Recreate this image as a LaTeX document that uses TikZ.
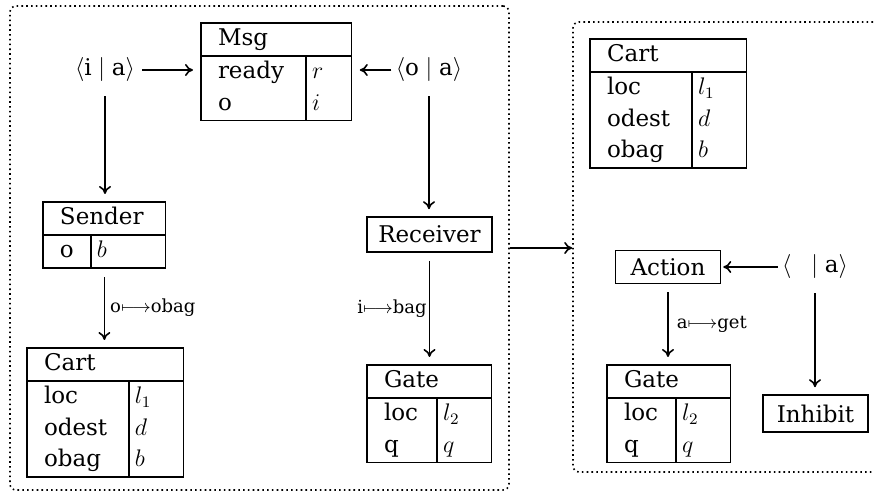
\documentclass[tikz,border=0pt]{standalone}
\usepackage{amsmath,amssymb}
\usepackage{array}
\usepackage{fontspec}
\setmainfont{DejaVu Serif}
\usepackage{tikz}
\usetikzlibrary{arrows.meta,positioning,calc}
\setlength{\arrayrulewidth}{0.8pt}
\renewcommand{\arraystretch}{1.12}
\newcolumntype{K}[1]{|@{\hspace{8pt}}p{#1}@{}}
\newcolumntype{V}[1]{|@{\hspace{2.5pt}}p{#1}@{}|}
\newcommand{\head}[1]{\multicolumn{2}{|@{\hspace{8pt}}l|}{#1}}

\begin{document}
\begin{tikzpicture}[
    x=0.5pt,y=-0.5pt,
    font=\fontsize{11.5}{14}\selectfont,
    frame/.style={draw,line width=0.8pt,dash pattern=on 0.8pt off 1.6pt,rounded corners=3pt,inner sep=0pt},
    rec/.style={inner sep=0pt,anchor=north west},
    box/.style={draw,line width=0.8pt,inner sep=0pt},
    port/.style={inner sep=2pt},
    arrow/.style={-{To[length=4pt,width=6pt]},line width=0.8pt,shorten >=3.5pt,shorten <=3pt},
    lab/.style={font=\fontsize{9}{11}\selectfont,inner sep=2.5pt}
  ]
    \useasboundingbox (0,0) rectangle (874,496);

    % the two configurations
    \node[frame,minimum width=249.5pt,minimum height=242pt] (LB) at (259.5,248) {};
    \node[frame,minimum width=165pt,minimum height=225pt] (RB) at (738,247) {};

    % left configuration
    \node[rec] (Msg) at (200,22) {\begin{tabular}{K{43.7pt}V{19.4pt}}\hline
        \head{Msg}\\\hline ready & $r$\\ o & $i$\\\hline\end{tabular}};
    \node[port] (IA) at (105,70) {$\langle\mathrm{i}\mid\mathrm{a}\rangle$};
    \node[port] (OA) at (429,70) {$\langle\mathrm{o}\mid\mathrm{a}\rangle$};
    \node[rec] (Sender) at (42,201) {\begin{tabular}{K{15.2pt}V{33.9pt}}\hline
        \head{Sender}\\\hline o & $b$\\\hline\end{tabular}};
    \node[rec] (CartL) at (26,347) {\begin{tabular}{K{42.2pt}V{23.9pt}}\hline
        \head{Cart}\\\hline loc & $l_1$\\ odest & $d$\\ obag & $b$\\\hline\end{tabular}};
    \node[box,minimum width=62.5pt,minimum height=17.5pt] (Rcv) at (429.5,234.5) {Receiver};
    \node[rec] (GateL) at (366,364) {\begin{tabular}{K{26.2pt}V{23.9pt}}\hline
        \head{Gate}\\\hline loc & $l_2$\\ q & $q$\\\hline\end{tabular}};

    % right configuration
    \node[rec] (CartR) at (589,38) {\begin{tabular}{K{42.2pt}V{23.9pt}}\hline
        \head{Cart}\\\hline loc & $l_1$\\ odest & $d$\\ obag & $b$\\\hline\end{tabular}};
    \node[box,minimum width=52.5pt,minimum height=16.5pt] (Act) at (668,267) {Action};
    \node[port] (EA) at (815,267) {$\langle\hspace{10pt}\mid\mathrm{a}\rangle$};
    \node[rec] (GateR) at (606,364) {\begin{tabular}{K{25.7pt}V{23.9pt}}\hline
        \head{Gate}\\\hline loc & $l_2$\\ q & $q$\\\hline\end{tabular}};
    \node[box,minimum width=52.5pt,minimum height=18.5pt] (Inh) at (815.5,413.5) {Inhibit};

    \draw[arrow,shorten <=1.5pt] (IA.east) -- (IA.east -| Msg.west);
    \draw[arrow,shorten <=0pt] (OA.west) -- (OA.west -| Msg.east);
    \draw[arrow,shorten <=5pt] (IA.south) -- (IA.south |- Sender.north);
    \draw[arrow,shorten <=4pt] (Sender.south) -- node[lab,right] {o$\longmapsto$obag} (Sender.south |- CartL.north);
    \draw[arrow,shorten <=5pt] (OA.south) -- (OA.south |- Rcv.north);
    \draw[arrow,shorten <=4pt] (Rcv.south) -- node[lab,left,inner sep=1pt] {i$\longmapsto$bag} (Rcv.south |- GateL.north);
    \draw[arrow,shorten <=0pt,shorten >=0pt] (LB.east) -- (LB.east -| RB.west);
    \draw[arrow,shorten <=0pt,shorten >=1pt] (EA.west) -- (EA.west -| Act.east);
    \draw[arrow,shorten <=4pt] (Act.south) -- node[lab,right,inner sep=4pt] {a$\longmapsto$get} (Act.south |- GateR.north);
    \draw[arrow,shorten <=5pt] (EA.south) -- (EA.south |- Inh.north);
  \end{tikzpicture}
\end{document}
